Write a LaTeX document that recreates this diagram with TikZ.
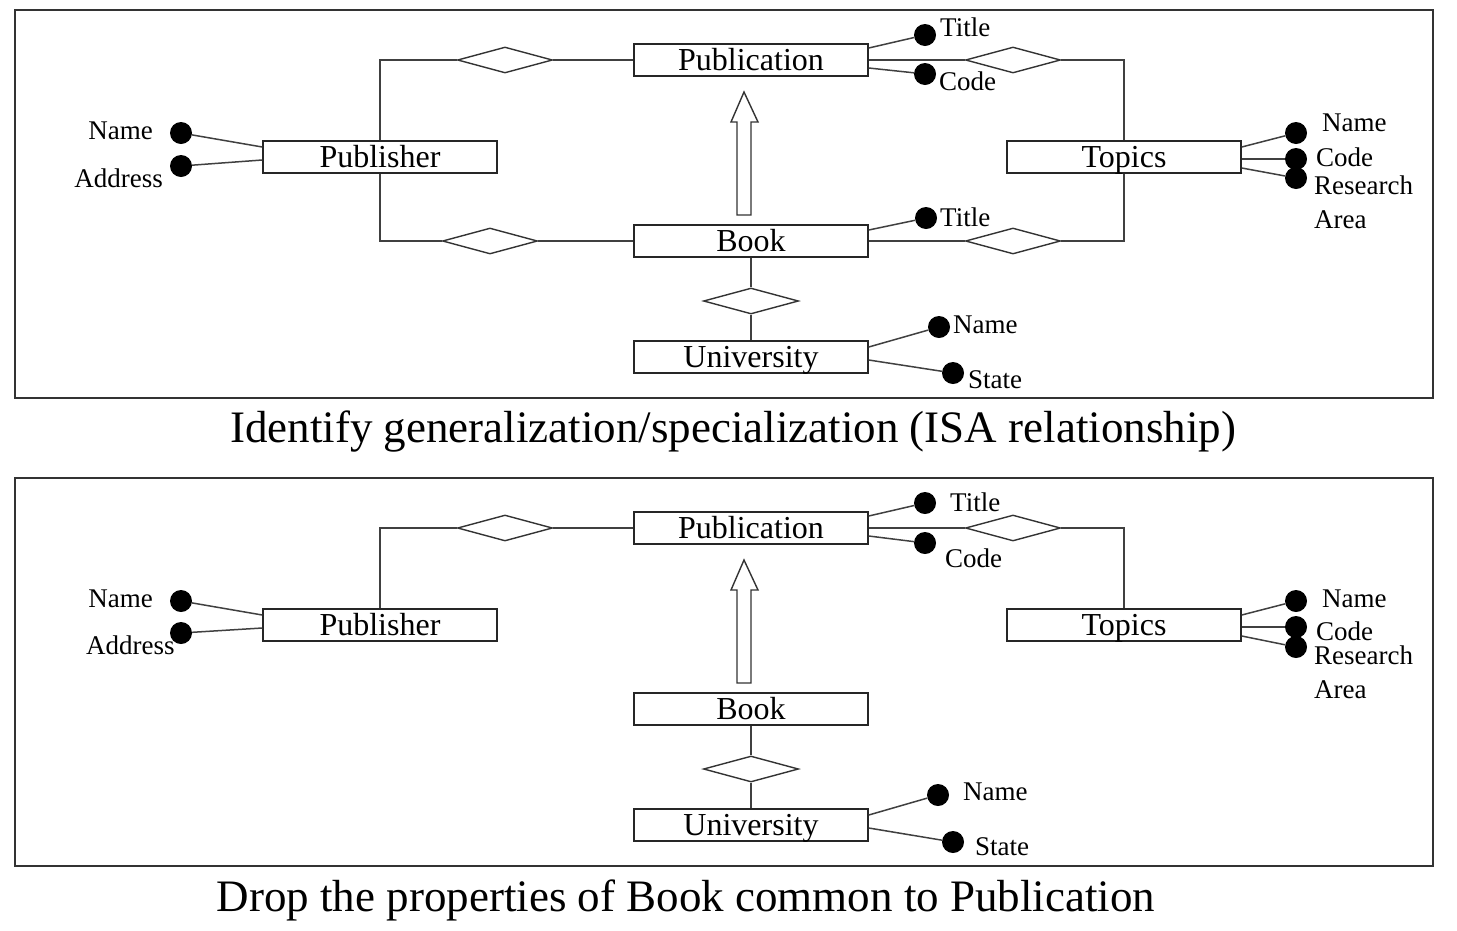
\documentclass[tikz,border=0pt]{standalone}
\usepackage{fontspec}
\setmainfont{Liberation Serif}
\usetikzlibrary{shapes.geometric}

\newcommand\entfont{\fontsize{32}{36}\selectfont}
\newcommand\attfont{\fontsize{27}{34}\selectfont}
\newcommand\capfont{\fontsize{45}{50}\selectfont}

\tikzset{
  entity/.style={draw=black!85, line width=1.5pt, minimum width=234pt, minimum height=32pt,
    inner sep=0pt, text height=24pt, text depth=4pt, font=\entfont},
  rel/.style={draw=black!80, diamond, line width=1.4pt, minimum width=95pt, minimum height=26pt, inner sep=0pt},
  attr/.style={circle, fill=black, minimum size=22pt, inner sep=0pt},
  attlabel/.style={inner sep=1pt, font=\attfont},
  conn/.style={line width=1.5pt, draw=black!75},
  frame/.style={line width=1.6pt, draw=black!80},
  isa/.style={line width=1.4pt, draw=black!80, fill=white},
}

\begin{document}
\begin{tikzpicture}[x=1pt, y=-1pt]
    \useasboundingbox (0,0) rectangle (1457,930);
    % the part both panels share
    \foreach \p/\dy in {t/0,b/468}
    {
      \draw[frame] (15,10+\dy) rectangle (1433,398+\dy);
      \node[entity] (pub\p) at (751,60+\dy) {Publication};
      \node[entity] (book\p) at (751,241+\dy) {Book};
      \node[entity] (uni\p) at (751,357+\dy) {University};
      \node[entity] (pbl\p) at (380,157+\dy) {Publisher};
      \node[entity] (top\p) at (1124,157+\dy) {Topics};
      \node[rel] (pp\p) at (505,60+\dy) {};
      \node[rel] (pt\p) at (1013,60+\dy) {};
      \node[rel] (bu\p) at (751,301+\dy) {};
      \draw[conn] (pbl\p.north) |- (pp\p.west);
      \draw[conn] (pp\p.east) -- (pub\p.west);
      \draw[conn] (pub\p.east) -- (pt\p.west);
      \draw[conn] (pt\p.east) -| (top\p.north);
      \draw[conn] (book\p.south) -- (bu\p.north);
      \draw[conn] (bu\p.south) -- (uni\p.north);
      % ISA arrow
      \draw[isa] (737,215+\dy) -- (737,122+\dy) -- (731,122+\dy) -- (744,92+\dy)
        -- (758,122+\dy) -- (751,122+\dy) -- (751,215+\dy) -- cycle;
    }

    % top panel: Book still has its own relationships
    \node[rel] (pbt) at (490,241) {};
    \node[rel] (btt) at (1013,241) {};
    \draw[conn] (pblt.south) |- (pbt.west);
    \draw[conn] (pbt.east) -- (bookt.west);
    \draw[conn] (bookt.east) -- (btt.west);
    \draw[conn] (btt.east) -| (topt.south);

    % top panel attributes
    \node[attr] (tpubti) at (925,35) {};
    \node[attlabel, anchor=west] (tpubtil) at (939,27) {Title};
    \node[attr] (tpubco) at (925,74) {};
    \node[attlabel, anchor=west] (tpubcol) at (938,81) {Code};
    \node[attr] (tbookti) at (926,218) {};
    \node[attlabel, anchor=west] (tbooktil) at (939,217) {Title};
    \node[attlabel, anchor=east] (tpbnal) at (154,131) {Name};
    \node[attr] (tpbna) at (181,133) {};
    \node[attlabel, anchor=east] (tpbadl) at (164,178) {Address};
    \node[attr] (tpbad) at (181,166) {};
    \node[attr] (ttopna) at (1296,133) {};
    \node[attlabel, anchor=west] (ttopnal) at (1321,123) {Name};
    \node[attr] (ttopco) at (1296,159) {};
    \node[attlabel, anchor=west] (ttopcol) at (1315,157) {Code};
    \node[attr] (ttopre) at (1296,178) {};
    \node[attlabel, anchor=north west, align=left] (ttoprel) at (1313,175) {Research\\Area};
    \node[attr] (tunina) at (939,327) {};
    \node[attlabel, anchor=west] (tuninal) at (952,325) {Name};
    \node[attr] (tunist) at (953,373) {};
    \node[attlabel, anchor=west] (tunistl) at (967,380) {State};
    \draw[conn] ([yshift=12pt]pubt.east) -- (tpubti);
    \draw[conn] ([yshift=-8pt]pubt.east) -- (tpubco);
    \draw[conn] ([yshift=11pt]bookt.east) -- (tbookti);
    \draw[conn] ([yshift=10pt]pblt.west) -- (tpbna);
    \draw[conn] ([yshift=-3pt]pblt.west) -- (tpbad);
    \draw[conn] ([yshift=10pt]topt.east) -- (ttopna);
    \draw[conn] ([yshift=-2pt]topt.east) -- (ttopco);
    \draw[conn] ([yshift=-11pt]topt.east) -- (ttopre);
    \draw[conn] ([yshift=10pt]unit.east) -- (tunina);
    \draw[conn] ([yshift=-3pt]unit.east) -- (tunist);

    % bottom panel attributes
    \node[attr] (bpubti) at (925,503) {};
    \node[attlabel, anchor=west] (bpubtil) at (949,502) {Title};
    \node[attr] (bpubco) at (925,543) {};
    \node[attlabel, anchor=west] (bpubcol) at (944,558) {Code};
    \node[attlabel, anchor=east] (bpbnal) at (154,599) {Name};
    \node[attr] (bpbna) at (181,601) {};
    \node[attlabel, anchor=west] (bpbadl) at (85,645) {Address};
    \node[attr] (bpbad) at (181,633) {};
    \node[attr] (btopna) at (1296,601) {};
    \node[attlabel, anchor=west] (btopnal) at (1321,599) {Name};
    \node[attr] (btopco) at (1296,627) {};
    \node[attlabel, anchor=west] (btopcol) at (1315,631) {Code};
    \node[attr] (btopre) at (1296,647) {};
    \node[attlabel, anchor=north west, align=left] (btoprel) at (1313,645) {Research\\Area};
    \node[attr] (bunina) at (938,795) {};
    \node[attlabel, anchor=west] (buninal) at (962,792) {Name};
    \node[attr] (bunist) at (953,842) {};
    \node[attlabel, anchor=west] (bunistl) at (974,847) {State};
    \draw[conn] ([yshift=12pt]pubb.east) -- (bpubti);
    \draw[conn] ([yshift=-8pt]pubb.east) -- (bpubco);
    \draw[conn] ([yshift=10pt]pblb.west) -- (bpbna);
    \draw[conn] ([yshift=-3pt]pblb.west) -- (bpbad);
    \draw[conn] ([yshift=10pt]topb.east) -- (btopna);
    \draw[conn] ([yshift=-2pt]topb.east) -- (btopco);
    \draw[conn] ([yshift=-11pt]topb.east) -- (btopre);
    \draw[conn] ([yshift=10pt]unib.east) -- (bunina);
    \draw[conn] ([yshift=-3pt]unib.east) -- (bunist);

    % captions
    \node[font=\capfont] (cap1) at (733,432) {Identify generalization/specialization (ISA relationship)};
    \node[font=\capfont] (cap2) at (686,900) {Drop the properties of Book common to Publication};
\end{tikzpicture}
\end{document}
